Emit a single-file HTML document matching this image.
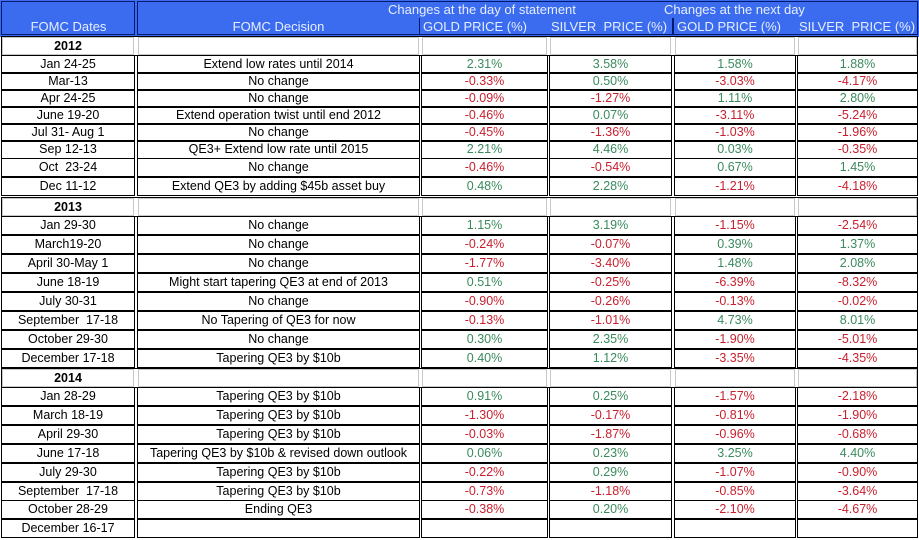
<!DOCTYPE html>
<html><head><style>
body{margin:0;width:919px;height:540px;background:#fff;position:relative;overflow:hidden;font-family:"Liberation Sans",Arial,sans-serif;font-size:12.5px}
.c{position:absolute;box-sizing:border-box;border:1px solid #000;text-align:center;line-height:16px;white-space:nowrap;overflow:hidden}
.y{border:1px solid #c8c8c8;font-weight:bold}
.g{color:#3a8a5c}.r{color:#c8202e}
#hd{position:absolute;left:0;top:0;width:919px;height:37px;background:#3b6cf0}
.h{position:absolute;color:#e6eeff;font-size:13px;line-height:17px;white-space:nowrap}
</style></head><body>
<div id="hd"></div>
<div style="position:absolute;left:1px;top:1px;width:134px;height:34px;border:1px solid #001a70;box-sizing:border-box"></div>
<div style="position:absolute;left:137px;top:1px;width:781px;height:34px;border:1px solid #001a70;box-sizing:border-box"></div>
<div style="position:absolute;left:419px;top:18px;width:1px;height:17px;background:#001a70"></div>
<div style="position:absolute;left:672px;top:18px;width:2px;height:17px;background:#001a70"></div>
<div class="h" style="left:0;width:137px;text-align:center;top:18px">FOMC Dates</div>
<div class="h" style="left:137px;width:283px;text-align:center;top:18px">FOMC Decision</div>
<div class="h" style="left:388px;top:1px">Changes at the day of statement</div>
<div class="h" style="left:664px;top:1px">Changes at the next day</div>
<div class="h" style="left:423px;top:18px">GOLD PRICE (%)</div>
<div class="h" style="left:551px;top:18px">SILVER&nbsp; PRICE (%)</div>
<div class="h" style="left:677px;top:18px">GOLD PRICE (%)</div>
<div class="h" style="left:799px;top:18px">SILVER&nbsp; PRICE (%)</div>
<div id="t"></div>
<script>
var rows=[
[46,"2012"],
[65,"Jan 24-25","Extend low rates until 2014","2.31%","3.58%","1.58%","1.88%"],
[82,"Mar-13","No change","-0.33%","0.50%","-3.03%","-4.17%"],
[99,"Apr 24-25","No change","-0.09%","-1.27%","1.11%","2.80%"],
[116,"June 19-20","Extend operation twist until end 2012","-0.46%","0.07%","-3.11%","-5.24%"],
[133,"Jul 31- Aug 1","No change","-0.45%","-1.36%","-1.03%","-1.96%"],
[150,"Sep 12-13","QE3+ Extend low rate until 2015","2.21%","4.46%","0.03%","-0.35%"],
[168,"Oct&nbsp; 23-24","No change","-0.46%","-0.54%","0.67%","1.45%"],
[187,"Dec 11-12","Extend QE3 by adding $45b asset buy","0.48%","2.28%","-1.21%","-4.18%"],
[207,"2013"],
[226,"Jan 29-30","No change","1.15%","3.19%","-1.15%","-2.54%"],
[245,"March19-20","No change","-0.24%","-0.07%","0.39%","1.37%"],
[264,"April 30-May 1","No change","-1.77%","-3.40%","1.48%","2.08%"],
[283,"June 18-19","Might start tapering QE3 at end of 2013","0.51%","-0.25%","-6.39%","-8.32%"],
[302,"July 30-31","No change","-0.90%","-0.26%","-0.13%","-0.02%"],
[321,"September&nbsp; 17-18","No Tapering of QE3 for now","-0.13%","-1.01%","4.73%","8.01%"],
[340,"October 29-30","No change","0.30%","2.35%","-1.90%","-5.01%"],
[359,"December 17-18","Tapering QE3 by $10b","0.40%","1.12%","-3.35%","-4.35%"],
[378,"2014"],
[397,"Jan 28-29","Tapering QE3 by $10b","0.91%","0.25%","-1.57%","-2.18%"],
[416,"March 18-19","Tapering QE3 by $10b","-1.30%","-0.17%","-0.81%","-1.90%"],
[435,"April 29-30","Tapering QE3 by $10b","-0.03%","-1.87%","-0.96%","-0.68%"],
[454,"June 17-18","Tapering QE3 by $10b &amp; revised down outlook","0.06%","0.23%","3.25%","4.40%"],
[473,"July 29-30","Tapering QE3 by $10b","-0.22%","0.29%","-1.07%","-0.90%"],
[492,"September&nbsp; 17-18","Tapering QE3 by $10b","-0.73%","-1.18%","-0.85%","-3.64%"],
[510,"October 28-29","Ending QE3","-0.38%","0.20%","-2.10%","-4.67%"],
[529,"December 16-17","","","","",""]
];
var xs=[[1,135],[137,420],[421,548],[549,672],[674,796],[797,918]];
var h="";
rows.forEach(function(r){
 var top=r[0]-9;
 if(r.length==2){
  h+='<div style="position:absolute;left:1px;top:'+(top-1)+'px;width:917px;height:20px;border:1px solid #000;box-sizing:border-box"></div>';
  for(var i=0;i<6;i++){var x=xs[i];h+='<div class="c y" style="left:'+(x[0]+1)+'px;top:'+top+'px;width:'+(x[1]-x[0]-2)+'px;height:18px;">'+(i==0?r[1]:'')+'</div>';}
 } else {
  for(var i=0;i<6;i++){var x=xs[i];var v=r[i+1];var cl="";
   if(i>=2&&v){cl=v.charAt(0)=='-'?' r':' g';}
   h+='<div class="c'+cl+'" style="left:'+x[0]+'px;top:'+(top-1)+'px;width:'+(x[1]-x[0])+'px;height:19px;">'+v+'</div>';}
 }
});
document.getElementById('t').innerHTML=h;
</script>
</body></html>
